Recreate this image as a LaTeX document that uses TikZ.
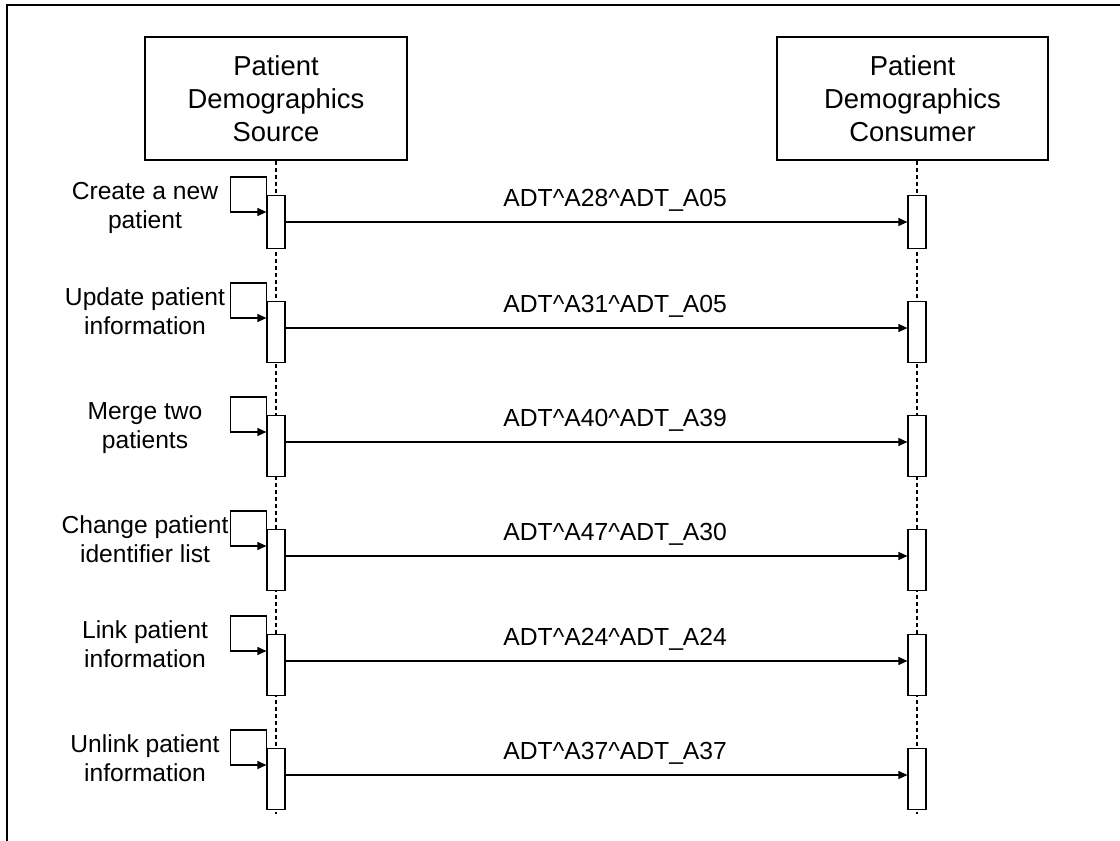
\documentclass[tikz,border=0pt]{standalone}
\usepackage{fontspec}
\setmainfont{Liberation Sans}
\usetikzlibrary{arrows.meta}
\tikzstyle{actor} = [draw,inner sep=0pt,align=center,minimum height=61.5pt,font=\fontsize{13.7}{16.5}\selectfont]
\tikzstyle{activation} = [draw,fill=white,inner sep=0pt,minimum width=9pt,anchor=north]
\tikzstyle{lifeline} = [dash pattern=on 2pt off 1.5pt]
\tikzstyle{message} = [-{Triangle[length=4.5pt,width=4pt]}]
\tikzstyle{selfcall} = [-{Triangle[length=4.5pt,width=4pt]}]
\tikzstyle{action} = [align=center,anchor=base,inner sep=0pt,font=\fontsize{12.3}{14.8}\selectfont]
\tikzstyle{msglabel} = [anchor=base,yshift=8pt,inner sep=0pt,font=\fontsize{12.35}{14.8}\selectfont]

\begin{document}
\begin{tikzpicture}[x=0.5pt,y=-0.5pt,line width=0.6pt]
	\useasboundingbox (0,0) rectangle (1120,841);
	\draw[line width=1pt] (7,841) -- (7,5) -- (1120,5);

	\node (src)[actor,minimum width=131pt] at (276,98.5) {Patient\\Demographics\\Source};
	\node (cons)[actor,minimum width=135.5pt] at (912.5,98.5) {Patient\\Demographics\\Consumer};
	\coordinate (srcend) at (276,814);
	\coordinate (consend) at (917,814);
	\draw[lifeline] (src.south) -- (srcend);
	\draw[lifeline] (cons.south -| consend) -- (consend);

	% activations
	\node (s1)[activation,minimum height=26.5pt] at (276,195) {};
	\node (c1)[activation,minimum height=26.5pt] at (917,195) {};
	\node (s2)[activation,minimum height=30.5pt] at (276,301) {};
	\node (c2)[activation,minimum height=30.5pt] at (917,301) {};
	\node (s3)[activation,minimum height=30.5pt] at (276,415) {};
	\node (c3)[activation,minimum height=30.5pt] at (917,415) {};
	\node (s4)[activation,minimum height=30.5pt] at (276,529) {};
	\node (c4)[activation,minimum height=30.5pt] at (917,529) {};
	\node (s5)[activation,minimum height=30.5pt] at (276,634) {};
	\node (c5)[activation,minimum height=30.5pt] at (917,634) {};
	\node (s6)[activation,minimum height=30.5pt] at (276,748) {};
	\node (c6)[activation,minimum height=30.5pt] at (917,748) {};

	% actions
	\node (a1)[action] at (145,228.6) {Create a new\\patient};
	\node (a2)[action] at (145,334.6) {Update patient\\information};
	\node (a3)[action] at (145,448.6) {Merge two\\patients};
	\node (a4)[action] at (145,562.6) {Change patient\\identifier list};
	\node (a5)[action] at (145,667.6) {Link patient\\information};
	\node (a6)[action] at (145,781.6) {Unlink patient\\information};

	\draw[selfcall] (s1.north west) |- ++(-36,-18) |- ([yshift=-8.5pt]s1.north west);
	\draw[selfcall] (s2.north west) |- ++(-36,-18) |- ([yshift=-8.5pt]s2.north west);
	\draw[selfcall] (s3.north west) |- ++(-36,-18) |- ([yshift=-8.5pt]s3.north west);
	\draw[selfcall] (s4.north west) |- ++(-36,-18) |- ([yshift=-8.5pt]s4.north west);
	\draw[selfcall] (s5.north west) |- ++(-36,-18) |- ([yshift=-8.5pt]s5.north west);
	\draw[selfcall] (s6.north west) |- ++(-36,-18) |- ([yshift=-8.5pt]s6.north west);

	% messages
	\draw[message] ([yshift=-13.5pt]s1.north east) -- ([yshift=-13.5pt]c1.north west)
		node[msglabel,pos=0.53] {ADT\textasciicircum A28\textasciicircum ADT\_A05};
	\draw[message] ([yshift=-13.5pt]s2.north east) -- ([yshift=-13.5pt]c2.north west)
		node[msglabel,pos=0.53] {ADT\textasciicircum A31\textasciicircum ADT\_A05};
	\draw[message] ([yshift=-13.5pt]s3.north east) -- ([yshift=-13.5pt]c3.north west)
		node[msglabel,pos=0.53] {ADT\textasciicircum A40\textasciicircum ADT\_A39};
	\draw[message] ([yshift=-13.5pt]s4.north east) -- ([yshift=-13.5pt]c4.north west)
		node[msglabel,pos=0.53] {ADT\textasciicircum A47\textasciicircum ADT\_A30};
	\draw[message] ([yshift=-13.5pt]s5.north east) -- ([yshift=-13.5pt]c5.north west)
		node[msglabel,pos=0.53] {ADT\textasciicircum A24\textasciicircum ADT\_A24};
	\draw[message] ([yshift=-13.5pt]s6.north east) -- ([yshift=-13.5pt]c6.north west)
		node[msglabel,pos=0.53] {ADT\textasciicircum A37\textasciicircum ADT\_A37};
\end{tikzpicture}
\end{document}
